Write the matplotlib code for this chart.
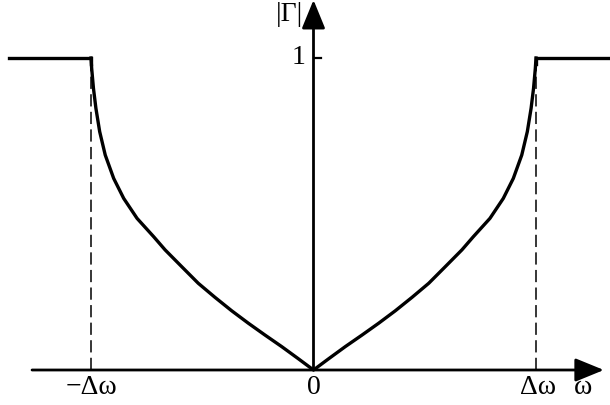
import numpy as np
import matplotlib
matplotlib.use("Agg")
import matplotlib.pyplot as plt

# Reflection magnitude |Γ| versus ω (ω in units of Δω), right half; the left half mirrors it
omega_pos = [0.0, 0.068, 0.143, 0.218, 0.293, 0.368, 0.443, 0.518, 0.592, 0.667,
             0.718, 0.793, 0.853, 0.898, 0.936, 0.961, 0.978, 0.989, 0.997, 1.0]
gamma_pos = [0.0, 0.036, 0.075, 0.112, 0.150, 0.190, 0.233, 0.278, 0.331, 0.385,
             0.427, 0.486, 0.550, 0.614, 0.689, 0.764, 0.839, 0.903, 0.967, 1.0]

# Flat |Γ| = 1 outside the band
flat_left = [-1.37, -1.0]
flat_right = [1.0, 1.40]
flat_level = 1.0

x_tick_labels = ["\u2212\u0394\u03c9", "0", "\u0394\u03c9"]
x_tick_values = [-1.0, 0.0, 1.0]

fig = plt.figure(figsize=(6.10, 4.05), dpi=100)
ax = fig.add_axes([0, 0, 1, 1])
ax.set_xlim(-313.5 / 222.5, 296.5 / 222.5)
ax.set_ylim(-35 / 312, 370 / 312)
ax.axis("off")

font = dict(family="Liberation Serif", size=20, color="black")
lw_curve = 2.4

# Curve: mirrored left branch plus right branch
om = np.array(omega_pos)
gm = np.array(gamma_pos)
x_full = np.concatenate([-om[::-1], om[1:]])
y_full = np.concatenate([gm[::-1], gm[1:]])
ax.plot(x_full, y_full, color="black", lw=lw_curve, solid_joinstyle="round", zorder=3)
ax.plot(flat_left + [flat_left[-1]], [flat_level, flat_level, 0.98], color="black", lw=lw_curve,
        solid_joinstyle="miter", zorder=3)
ax.plot([flat_right[0]] + flat_right, [0.98, flat_level, flat_level], color="black", lw=lw_curve,
        solid_joinstyle="miter", zorder=3)

# Dashed guides at ±Δω
for xv in (-1.0, 1.0):
    ax.plot([xv, xv], [0, 0.97], color="black", lw=1.1, dashes=(8.0, 3.5), zorder=2)

# Axes with arrowheads
arrow = dict(arrowstyle="-|>,head_length=1.1,head_width=0.45", lw=2.0,
             color="black", mutation_scale=16, shrinkA=0, shrinkB=0)
ax.annotate("", xy=(1.305, 0), xytext=(-1.265, 0), arrowprops=arrow)
ax.annotate("", xy=(0, 1.186), xytext=(0, 0), arrowprops=arrow)

# Tick at |Γ| = 1
ax.plot([0, 0.032], [1, 1], color="black", lw=1.6)
ax.text(-0.067, 1.0, "1", ha="center", va="center", **font)

# x-axis ticks and labels
for xv, lab in zip(x_tick_values, x_tick_labels):
    ax.text(xv + (0.01 if xv > 0 else 0), -0.056, lab, ha="center", va="center", **font)

ax.text(1.212, -0.056, "\u03c9", ha="center", va="center", **font)
ax.text(-0.108, 1.14, "|\u0393|", ha="center", va="center", **font)

fig.savefig("out.png", dpi=100)
